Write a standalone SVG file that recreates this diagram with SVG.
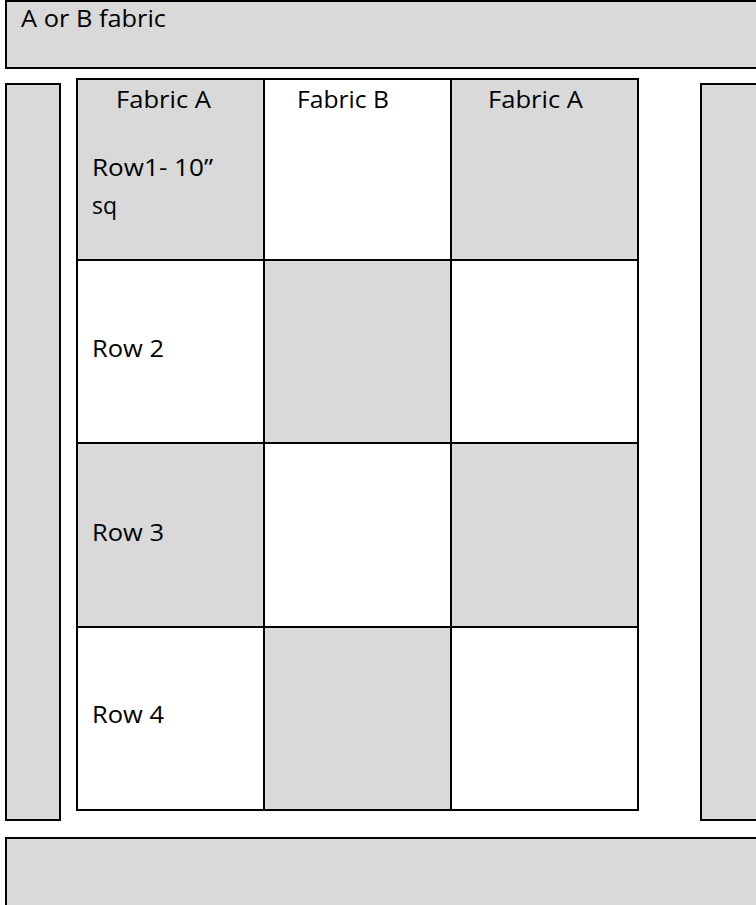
<svg xmlns="http://www.w3.org/2000/svg" width="756" height="905" viewBox="0 0 756 905">
<style>
.g{fill:#d9d9d9}
.w{fill:#ffffff}
.b{stroke:#000;stroke-width:2}
.t{font-family:"Open Sans","Liberation Sans",sans-serif;font-size:23px;fill:#000}
</style>
<rect x="0" y="0" width="756" height="905" fill="#fff"/>
<g id="top-border"><rect class="g b" x="6" y="1" width="760" height="67"/><text class="t" x="21" y="27" textLength="145" lengthAdjust="spacingAndGlyphs">A or B fabric</text></g>
<g id="left-border"><rect class="g b" x="6" y="84" width="54" height="736"/></g>
<g id="right-border"><rect class="g b" x="701" y="84" width="70" height="736"/></g>
<g id="bottom-border"><rect class="g b" x="6" y="838" width="760" height="80"/></g>
<g id="grid">
<g id="r1c1"><rect class="g b" x="77" y="79" width="187" height="181"/><text class="t" x="116" y="108" textLength="95" lengthAdjust="spacingAndGlyphs">Fabric A</text><text class="t" x="92" y="176" textLength="121" lengthAdjust="spacingAndGlyphs">Row1- 10”</text><text class="t" x="92" y="214" textLength="25" lengthAdjust="spacingAndGlyphs">sq</text></g>
<g id="r1c2"><rect class="w b" x="264" y="79" width="187" height="181"/><text class="t" x="297" y="108" textLength="92" lengthAdjust="spacingAndGlyphs">Fabric B</text></g>
<g id="r1c3"><rect class="g b" x="451" y="79" width="187" height="181"/><text class="t" x="488" y="108" textLength="95" lengthAdjust="spacingAndGlyphs">Fabric A</text></g>
<g id="r2c1"><rect class="w b" x="77" y="260" width="187" height="183"/><text class="t" x="92" y="357" textLength="72" lengthAdjust="spacingAndGlyphs">Row 2</text></g>
<g id="r2c2"><rect class="g b" x="264" y="260" width="187" height="183"/></g>
<g id="r2c3"><rect class="w b" x="451" y="260" width="187" height="183"/></g>
<g id="r3c1"><rect class="g b" x="77" y="443" width="187" height="184"/><text class="t" x="92" y="541" textLength="72" lengthAdjust="spacingAndGlyphs">Row 3</text></g>
<g id="r3c2"><rect class="w b" x="264" y="443" width="187" height="184"/></g>
<g id="r3c3"><rect class="g b" x="451" y="443" width="187" height="184"/></g>
<g id="r4c1"><rect class="w b" x="77" y="627" width="187" height="183"/><text class="t" x="92" y="723" textLength="72" lengthAdjust="spacingAndGlyphs">Row 4</text></g>
<g id="r4c2"><rect class="g b" x="264" y="627" width="187" height="183"/></g>
<g id="r4c3"><rect class="w b" x="451" y="627" width="187" height="183"/></g>
</g>
<g id="connectors"/>
</svg>
